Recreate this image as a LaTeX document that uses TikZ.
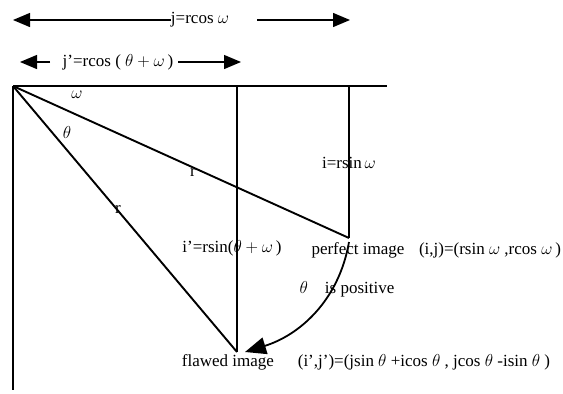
\documentclass[tikz,border=0pt]{standalone}
\usepackage{fontspec}
\setmainfont{Liberation Serif}
\usetikzlibrary{arrows.meta}
\begin{document}
\begin{tikzpicture}[x=1pt,y=-1pt,
  lbl/.style={inner sep=0pt,font=\fontsize{17}{20}\selectfont},
  geo/.style={line width=1.5pt},
  dimarrow/.style={line width=1.3pt,-{Triangle[length=17pt,width=14pt]}},
  curvearrow/.style={line width=1.8pt,-{Triangle[length=21pt,width=17pt]}}]
\useasboundingbox (0,0) rectangle (563,394);
% geometry points
\coordinate (O) at (13,86);
\coordinate (E) at (387,86);
\coordinate (B) at (13,390);
\coordinate (T1) at (237,86);
\coordinate (T2) at (349,86);
\coordinate (P) at (349,238);
\coordinate (F) at (237,352);
\coordinate (Ps) at (349,242);
\coordinate (Ft) at (245,352);
% frame
\draw[geo] (O) -- (E);
\draw[geo] (O) -- (B);
\draw[geo] (T1) -- (F);
\draw[geo] (T2) -- (P);
\draw[line width=1.9pt] (O) -- (P);
\draw[line width=1.9pt] (O) -- (F);
% dimension arrows
\node[lbl] (j) at (200,20) {j=rcos $\omega$};
\coordinate (jL) at (13,20);
\coordinate (jRs) at (257,20);
\coordinate (jR) at (350,20);
\draw[dimarrow] (j.west) -- (jL);
\draw[dimarrow] (jRs) -- (jR);
\node[lbl] (jp) at (118,62) {j'=rcos ( $\theta+\omega$\,)};
\coordinate (jpLs) at (50,62);
\coordinate (jpL) at (20,62);
\coordinate (jpRs) at (178,62);
\coordinate (jpR) at (241,62);
\draw[dimarrow] (jpLs) -- (jpL);
\draw[dimarrow] (jpRs) -- (jpR);
% labels
\node[lbl] (w) at (77,95) {$\omega$};
\node[lbl] (t) at (67,132) {$\theta$};
\node[lbl] (r1) at (193,172) {r};
\node[lbl] (r2) at (118,209) {r};
\node[lbl] (i) at (349,163) {i=rsin\,$\omega$};
\node[lbl] (ip) at (232,248) {i'=rsin($\theta+\omega$\,)};
\node[lbl] (pi) at (358,250) {perfect image};
\node[lbl] (ij) at (490,250) {(i,j)=(rsin $\omega$ ,rcos $\omega$\,)};
\node[lbl] (pos) at (347,289) {$\theta$\quad is positive};
\node[lbl] (fi) at (228,362) {flawed image};
\node[lbl] (ijp) at (424,362) {(i',j')=(jsin $\theta$ +icos $\theta$ , jcos $\theta$ -isin $\theta$ )};
% curved arrow
\draw[curvearrow] (Ps) .. controls (339,300) and (300,335) .. (Ft);
\end{tikzpicture}
\end{document}
